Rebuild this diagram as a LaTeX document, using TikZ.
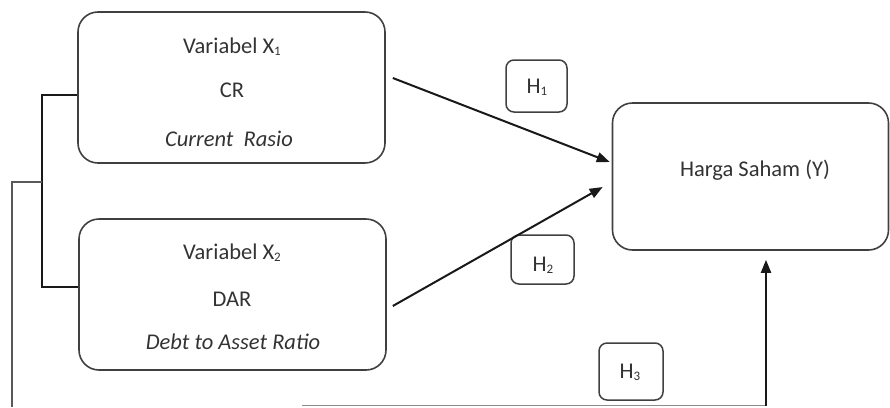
\documentclass[tikz,border=0pt]{standalone}
\usepackage{fontspec}
\setmainfont{Carlito}
\usetikzlibrary{arrows.meta}
\newcommand{\lowsub}[1]{\raisebox{-0.25ex}{\fontsize{13pt}{13pt}\selectfont #1}}
\begin{document}
\begin{tikzpicture}[x=1pt,y=-1pt,
  box/.style={draw=black!75,line width=1.6pt,rounded corners=20pt,inner sep=0pt},
  hbox/.style={draw=black!75,line width=1.5pt,rounded corners=8pt,inner sep=0pt},
  txt/.style={anchor=base,inner sep=0pt,text=black!80,font=\fontsize{22.5pt}{26pt}\selectfont},
  conn/.style={draw=black!90,line width=2pt},
  arr/.style={conn,-{Triangle[length=13pt,width=10pt]}}]
\useasboundingbox (0,0) rectangle (890,407);
% boxes
\node[box,minimum width=307pt,minimum height=151pt] (b1) at (231.5,87.5) {};
\node[box,minimum width=307pt,minimum height=151pt] (b2) at (232.5,294.5) {};
\node[box,minimum width=276pt,minimum height=147pt] (y) at (750.5,176.5) {};
\node[hbox,minimum width=61pt,minimum height=52pt] (h1) at (536.5,86) {};
\node[hbox,minimum width=63pt,minimum height=49pt] (h2) at (542.5,259.5) {};
\node[hbox,minimum width=64pt,minimum height=57pt] (h3) at (631,371.5) {};
% texts
\node[txt] (t11) at (232,53) {Variabel X\lowsub{1}};
\node[txt] (t12) at (232,97) {CR};
\node[txt] (t13) at (229,146) {\itshape Current\ \ Rasio};
\node[txt] (t21) at (232,259) {Variabel X\lowsub{2}};
\node[txt] (t22) at (232,306) {DAR};
\node[txt] (t23) at (233,349) {\itshape Debt to Asset Ratio};
\node[txt] (ty) at (755,176) {Harga Saham (Y)};
\node[txt] (th1) at (537,93) {H\lowsub{1}};
\node[txt] (th2) at (543,271) {H\lowsub{2}};
\node[txt] (th3) at (630,378) {H\lowsub{3}};
% arrows to Y
\draw[arr] ([xshift=7pt,yshift=9.5pt]b1.east) -- ([xshift=-2pt,yshift=14.5pt]y.west);
\draw[arr] ([xshift=6pt,yshift=-11.5pt]b2.east) -- ([xshift=-9pt,yshift=-10.5pt]y.west);
% bracket linking X1 and X2
\coordinate (j) at (42,182);
\draw[conn,line width=1.4pt] ([yshift=-7.5pt]b1.west) -| (j) |- ([yshift=7.5pt]b2.west);
\coordinate (lb) at (12,407);
\draw[draw=black!65,line width=1.8pt] (j) -| (lb);
% bottom line and arrow to Y
\coordinate (bl) at (302,405.5);
\coordinate (br) at (766,405.5);
\draw[draw=black!45,line width=1.3pt] (bl) -- (br);
\draw[arr] (br) -- ([xshift=15.5pt,yshift=-9pt]y.south);
\end{tikzpicture}
\end{document}
